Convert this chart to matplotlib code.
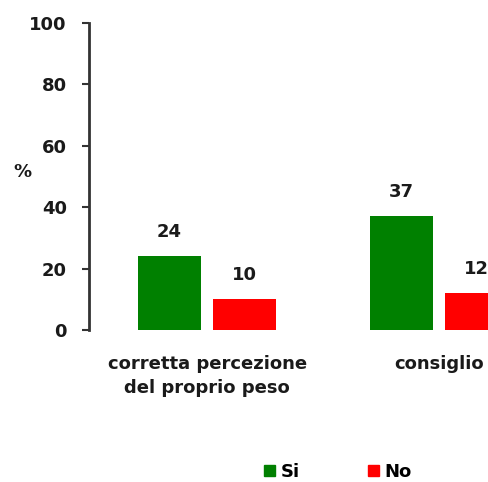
import matplotlib
matplotlib.use("Agg")
import matplotlib.pyplot as plt
import numpy as np
from matplotlib.patches import Patch

categories = ["corretta percezione\ndel proprio peso", "consiglio"]
si_values = [24, 37]
no_values = [10, 12]
series_names = ["Si", "No"]
yticks = [0, 20, 40, 60, 80, 100]

plt.rcParams['font.family'] = ['DejaVu Sans']
plt.rcParams['font.weight'] = 'bold'
FS = 13
TXT = '#1a1a1a'

fig = plt.figure(figsize=(4.88, 4.82), dpi=100)
ax = fig.add_axes([0.1824, 0.3154, 0.8176, 0.6369])

x = np.arange(len(categories))
w = 0.272
off = 0.163
green = '#008000'
red = '#ff0000'
b1 = ax.bar(x - off, si_values, w, color=green)
b2 = ax.bar(x + off, no_values, w, color=red)

for rects, vals in ((b1, si_values), (b2, no_values)):
    for r, v in zip(rects, vals):
        ax.text(r.get_x() + r.get_width() / 2, v + 5, f"{v}", ha='center', va='bottom',
                fontsize=FS, fontweight='bold', color=TXT)

ax.set_xlim(-0.509, 1.211)
ax.set_ylim(0, 100)
ax.set_yticks(yticks)
ax.set_yticklabels([str(t) for t in yticks], fontsize=FS, fontweight='bold', color=TXT)
ax.tick_params(axis='y', direction='out', length=5, width=1.5, color='#333333', pad=11)
ax.set_xticks(x)
ax.set_xticklabels(categories, fontsize=FS, fontweight='bold', color=TXT, linespacing=1.4)
ax.tick_params(axis='x', length=0, pad=18)
for s in ['top', 'right', 'bottom']:
    ax.spines[s].set_visible(False)
ax.spines['left'].set_linewidth(2)
ax.spines['left'].set_color('#333333')

fig.text(22 / 488, 1 - 172 / 482, '%', fontsize=FS, fontweight='bold', ha='center', va='center', color=TXT)

handles = [Patch(color=green), Patch(color=red)]
fig.legend(handles, series_names, loc='center', bbox_to_anchor=(338 / 488, 1 - 472 / 482), ncol=2,
           frameon=False, handlelength=0.6, handleheight=0.6, handletextpad=0.3,
           columnspacing=3.8, borderpad=0.2, prop={'size': FS, 'weight': 'bold'})

fig.savefig('out.png', dpi=100)
